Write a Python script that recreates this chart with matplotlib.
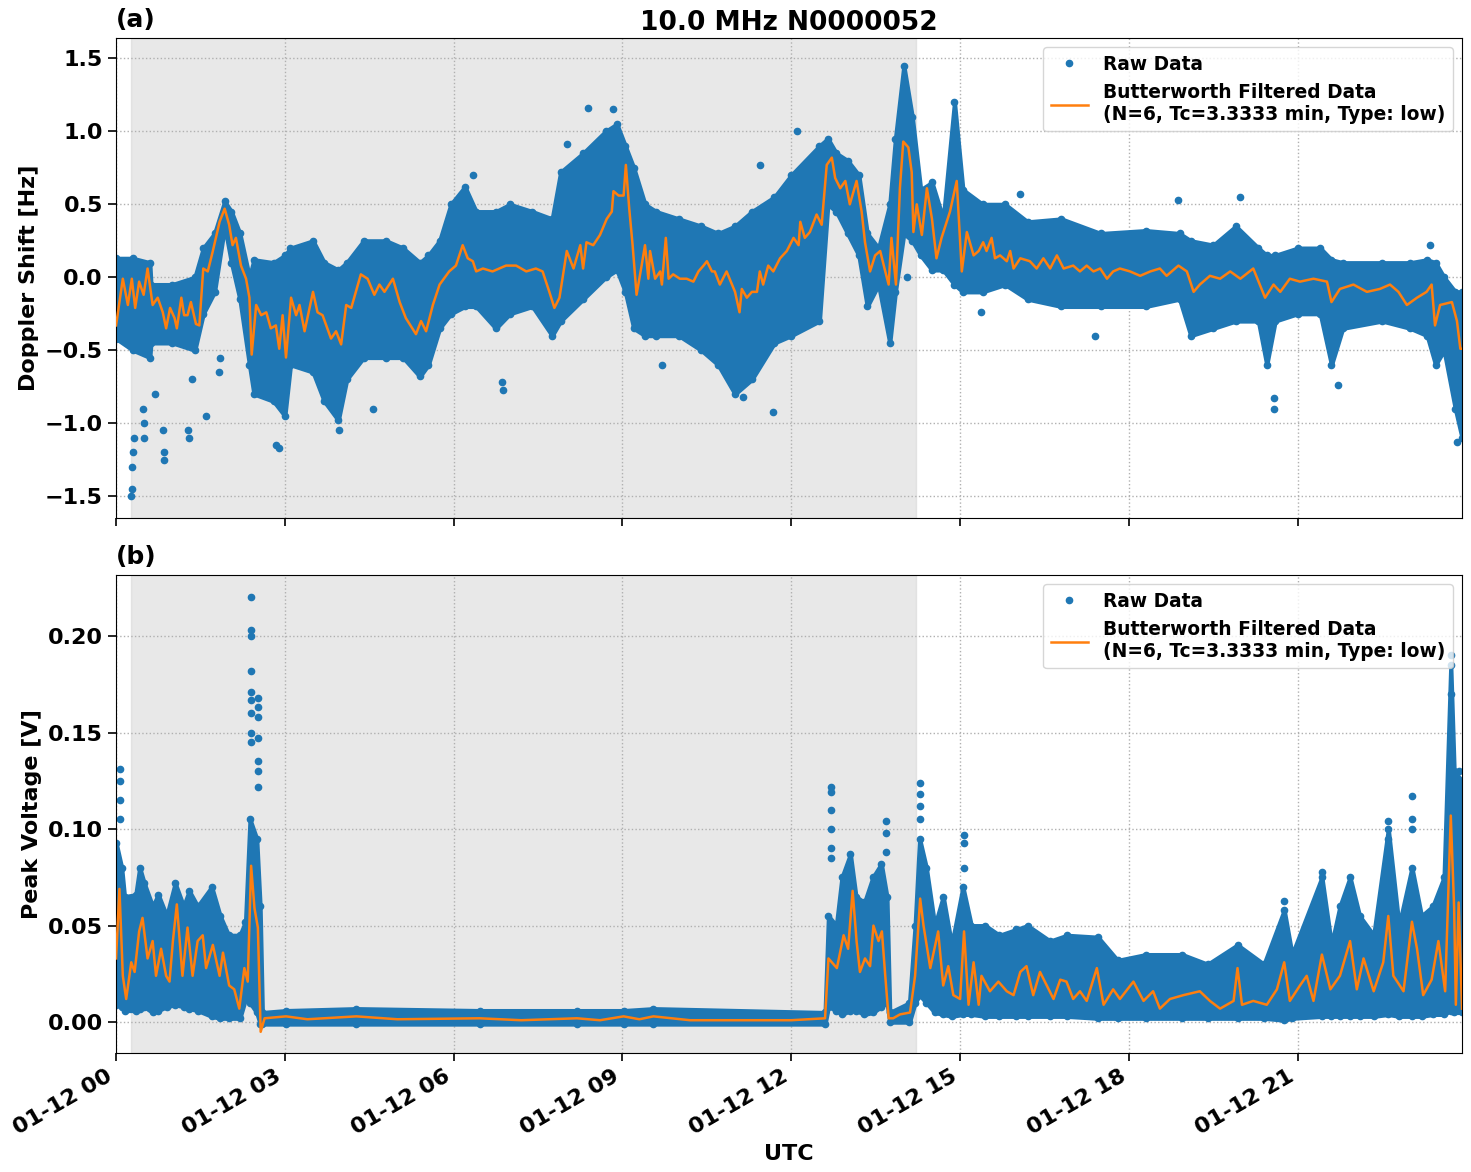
import numpy as np
import pandas as pd
import matplotlib
matplotlib.use("Agg")
import matplotlib.pyplot as plt
import matplotlib.dates as mdates

# ---------------- data (hours after 2025-01-12 00:00 UTC) ----------------
title = "10.0 MHz N0000052"
raw_label = "Raw Data"
filt_label = "Butterworth Filtered Data\n(N=6, Tc=3.3333 min, Type: low)"
shade_start_h = 0.27
shade_end_h = 14.22
t_end_h = 23.92

# (a) Doppler shift: Butterworth filtered curve
dop_filt_h = [0.00, 0.12, 0.21, 0.28, 0.34, 0.41, 0.49, 0.56, 0.65, 0.74, 0.83, 0.89, 0.96, 1.04, 1.08,
              1.16, 1.21, 1.27, 1.33, 1.42, 1.48, 1.55, 1.63, 1.72, 1.84, 1.93, 2.01, 2.07, 2.13, 2.22,
              2.31, 2.37, 2.41, 2.49, 2.58, 2.67, 2.75, 2.84, 2.90, 2.96, 3.02, 3.11, 3.20, 3.26, 3.35,
              3.50, 3.58, 3.67, 3.82, 3.91, 4.00, 4.09, 4.18, 4.35, 4.47, 4.59, 4.68, 4.77, 4.92, 5.04,
              5.15, 5.33, 5.42, 5.51, 5.63, 5.75, 5.92, 6.04, 6.16, 6.25, 6.34, 6.40, 6.52, 6.69, 6.93,
              7.11, 7.29, 7.46, 7.58, 7.70, 7.79, 7.88, 8.01, 8.13, 8.25, 8.30, 8.36, 8.48, 8.60, 8.72,
              8.81, 8.84, 8.93, 9.02, 9.06, 9.12, 9.18, 9.25, 9.34, 9.40, 9.46, 9.49, 9.58, 9.67, 9.70,
              9.77, 9.82, 9.90, 10.02, 10.14, 10.26, 10.35, 10.44, 10.50, 10.59, 10.64, 10.73, 10.85,
              11.00, 11.08, 11.12, 11.21, 11.30, 11.39, 11.44, 11.50, 11.59, 11.68, 11.80, 11.92, 12.04,
              12.13, 12.16, 12.24, 12.33, 12.45, 12.54, 12.63, 12.72, 12.78, 12.87, 12.96, 13.04, 13.16,
              13.25, 13.31, 13.40, 13.49, 13.58, 13.67, 13.73, 13.78, 13.86, 13.93, 13.99, 14.08, 14.14,
              14.17, 14.23, 14.32, 14.41, 14.50, 14.58, 14.67, 14.82, 14.94, 15.03, 15.12, 15.24, 15.33,
              15.41, 15.47, 15.56, 15.62, 15.71, 15.83, 15.89, 15.95, 16.07, 16.24, 16.36, 16.48, 16.60,
              16.72, 16.84, 17.01, 17.13, 17.25, 17.37, 17.49, 17.61, 17.72, 17.84, 18.02, 18.20, 18.38,
              18.55, 18.67, 18.88, 19.03, 19.15, 19.26, 19.44, 19.62, 19.80, 19.98, 20.21, 20.42, 20.57,
              20.69, 20.86, 21.04, 21.28, 21.52, 21.60, 21.75, 21.99, 22.23, 22.46, 22.64, 22.79, 22.94,
              23.12, 23.29, 23.38, 23.44, 23.53, 23.74, 23.83, 23.89, 23.92]
dop_filt_v = [-0.33, -0.01, -0.19, -0.01, -0.21, -0.03, -0.12, 0.06, -0.19, -0.14, -0.24, -0.35, -0.21, -0.28, -0.35,
              -0.14, -0.26, -0.26, -0.17, -0.32, -0.33, 0.06, 0.04, 0.18, 0.38, 0.47, 0.36, 0.22, 0.27, 0.08,
              -0.01, -0.14, -0.53, -0.19, -0.26, -0.24, -0.35, -0.33, -0.49, -0.26, -0.55, -0.14, -0.26, -0.19, -0.37,
              -0.10, -0.24, -0.26, -0.42, -0.37, -0.46, -0.19, -0.21, 0.02, -0.01, -0.12, -0.05, -0.10, -0.01, -0.17,
              -0.28, -0.39, -0.30, -0.37, -0.19, -0.05, 0.04, 0.08, 0.22, 0.13, 0.11, 0.04, 0.06, 0.04, 0.08,
              0.08, 0.04, 0.06, 0.04, -0.10, -0.21, -0.14, 0.18, 0.06, 0.22, 0.06, 0.24, 0.22, 0.29, 0.40,
              0.45, 0.59, 0.56, 0.56, 0.77, 0.47, 0.22, -0.12, 0.08, 0.22, -0.01, 0.18, -0.01, 0.04, -0.05,
              0.27, -0.01, 0.02, -0.01, -0.01, -0.03, 0.04, 0.08, 0.11, 0.04, 0.04, -0.05, 0.04,
              -0.10, -0.24, -0.08, -0.14, -0.10, -0.10, 0.04, -0.05, 0.08, 0.04, 0.13, 0.18, 0.27,
              0.22, 0.38, 0.27, 0.31, 0.43, 0.36, 0.77, 0.82, 0.68, 0.61, 0.66, 0.50, 0.66,
              0.45, 0.24, 0.04, 0.15, 0.18, 0.04, -0.05, 0.27, -0.05, 0.61, 0.93, 0.89, 0.72,
              0.31, 0.50, 0.29, 0.61, 0.40, 0.13, 0.27, 0.45, 0.66, 0.04, 0.31, 0.15, 0.18,
              0.24, 0.18, 0.27, 0.13, 0.15, 0.11, 0.18, 0.06, 0.13, 0.11, 0.06, 0.13, 0.06,
              0.15, 0.06, 0.08, 0.04, 0.08, 0.04, 0.06, -0.01, 0.04, 0.06, 0.04, 0.01, 0.04,
              0.06, 0.01, 0.08, 0.04, -0.10, -0.05, 0.01, -0.01, 0.04, -0.01, 0.06, -0.14, -0.05,
              -0.10, -0.01, -0.03, -0.01, -0.03, -0.17, -0.08, -0.05, -0.10, -0.08, -0.05, -0.10, -0.19,
              -0.14, -0.10, -0.05, -0.33, -0.19, -0.17, -0.30, -0.49, -0.49]

# (a) Doppler shift: extent of the dense raw-data band
dop_band_h = [0.00, 0.30, 0.60, 0.62, 1.00, 1.40, 1.55, 1.75, 1.93, 2.05, 2.20, 2.37, 2.45, 2.80, 3.00,
              3.10, 3.50, 3.70, 3.95, 4.10, 4.40, 4.80, 5.10, 5.40, 5.55, 5.75, 5.95, 6.20, 6.40, 6.75,
              7.00, 7.40, 7.75, 7.90, 8.30, 8.70, 8.90, 9.05, 9.20, 9.40, 9.60, 10.0, 10.4, 10.7, 11.0,
              11.3, 11.7, 12.0, 12.5, 12.65, 12.80, 13.00, 13.20, 13.35, 13.55, 13.75, 13.85, 14.00, 14.15,
              14.30, 14.50, 14.70, 14.90, 15.05, 15.40, 15.80, 16.20, 16.80, 17.50, 18.30, 18.90, 19.10,
              19.50, 19.90, 20.30, 20.45, 20.60, 21.00, 21.40, 21.60, 21.80, 22.50, 23.00, 23.30, 23.45,
              23.60, 23.80, 23.92]
dop_band_hi = [0.13, 0.13, 0.10, -0.05, -0.05, 0.00, 0.20, 0.30, 0.52, 0.45, 0.30, 0.00, 0.12, 0.10, 0.15,
               0.20, 0.25, 0.10, 0.05, 0.10, 0.25, 0.25, 0.20, 0.10, 0.15, 0.25, 0.50, 0.62, 0.45, 0.45,
               0.50, 0.45, 0.40, 0.72, 0.85, 1.00, 1.05, 0.90, 0.75, 0.50, 0.45, 0.40, 0.35, 0.30, 0.35,
               0.45, 0.55, 0.70, 0.90, 0.95, 0.85, 0.80, 0.70, 0.30, 0.20, 0.50, 0.95, 1.45, 1.10,
               0.60, 0.65, 0.40, 1.20, 0.60, 0.50, 0.50, 0.38, 0.40, 0.30, 0.32, 0.30, 0.25,
               0.22, 0.35, 0.20, 0.15, 0.15, 0.20, 0.20, 0.12, 0.10, 0.10, 0.10, 0.12, 0.10,
               0.00, -0.10, -0.10]
dop_band_lo = [-0.42, -0.50, -0.55, -0.45, -0.45, -0.50, -0.25, -0.10, 0.35, 0.10, -0.15, -0.60, -0.80, -0.85, -0.95,
               -0.60, -0.65, -0.85, -0.98, -0.70, -0.55, -0.55, -0.55, -0.68, -0.60, -0.35, -0.25, -0.20, -0.20, -0.35,
               -0.25, -0.20, -0.40, -0.30, -0.15, 0.00, 0.05, -0.10, -0.35, -0.40, -0.40, -0.40, -0.50, -0.60, -0.80,
               -0.70, -0.45, -0.40, -0.30, 0.50, 0.45, 0.30, 0.15, -0.20, -0.05, -0.45, -0.10, 0.30, 0.25,
               0.15, 0.05, 0.05, -0.05, -0.10, -0.10, -0.05, -0.15, -0.20, -0.20, -0.20, -0.15, -0.40,
               -0.35, -0.30, -0.30, -0.60, -0.30, -0.25, -0.25, -0.60, -0.35, -0.30, -0.35, -0.40, -0.60,
               -0.50, -0.90, -1.10]

# (a) Doppler shift: isolated raw samples outside the band
dop_out_h = [0.27, 0.28, 0.29, 0.30, 0.32, 0.47, 0.50, 0.50, 0.70, 0.84, 0.86, 0.86, 1.28, 1.29, 1.35,
             1.59, 1.83, 1.85, 2.85, 2.90, 3.96, 4.56, 6.34, 6.86, 6.87, 8.01, 8.39, 8.84, 9.70, 11.15,
             11.44, 11.68, 12.10, 14.05, 15.38, 16.07, 17.40, 18.88, 19.98, 20.57, 20.57, 21.72, 23.35, 23.83]
dop_out_v = [-1.50, -1.45, -1.30, -1.20, -1.10, -0.90, -1.10, -1.00, -0.80, -1.05, -1.20, -1.25, -1.05, -1.10, -0.70,
             -0.95, -0.65, -0.55, -1.15, -1.17, -1.05, -0.90, 0.70, -0.72, -0.77, 0.91, 1.16, 1.15, -0.60, -0.82,
             0.77, -0.92, 1.00, 0.00, -0.24, 0.57, -0.40, 0.53, 0.55, -0.83, -0.90, -0.74, 0.22, -1.13]

# (b) Peak voltage: Butterworth filtered curve
pv_filt_h = [0.00, 0.06, 0.12, 0.18, 0.27, 0.33, 0.41, 0.47, 0.56, 0.65, 0.71, 0.80, 0.89, 0.95, 1.01,
             1.08, 1.18, 1.27, 1.36, 1.45, 1.54, 1.60, 1.72, 1.84, 1.90, 2.01, 2.10, 2.19, 2.28, 2.34,
             2.40, 2.46, 2.52, 2.57, 2.64, 3.02, 3.40, 4.27, 5.00, 6.46, 7.20, 8.19, 8.60, 9.02, 9.30,
             9.55, 10.20, 11.00, 12.00, 12.60, 12.66, 12.81, 12.93, 13.01, 13.09, 13.16, 13.22, 13.31, 13.40,
             13.46, 13.55, 13.61, 13.67, 13.73, 13.81, 13.93, 14.11, 14.20, 14.29, 14.35, 14.47, 14.61, 14.70,
             14.79, 14.88, 15.00, 15.07, 15.15, 15.24, 15.33, 15.38, 15.53, 15.68, 15.83, 15.95, 16.07, 16.18,
             16.30, 16.42, 16.54, 16.66, 16.78, 16.89, 17.01, 17.13, 17.25, 17.43, 17.55, 17.72, 17.84, 18.08,
             18.26, 18.43, 18.55, 18.73, 18.97, 19.26, 19.44, 19.62, 19.86, 19.93, 20.01, 20.21, 20.45, 20.63,
             20.76, 20.86, 21.04, 21.16, 21.28, 21.43, 21.58, 21.75, 21.93, 22.05, 22.17, 22.35, 22.52, 22.61,
             22.70, 22.88, 23.03, 23.12, 23.23, 23.38, 23.50, 23.62, 23.72, 23.78, 23.81, 23.86, 23.92]
pv_filt_v = [0.033, 0.069, 0.024, 0.012, 0.031, 0.026, 0.047, 0.054, 0.033, 0.042, 0.024, 0.038, 0.024, 0.021, 0.042,
             0.061, 0.024, 0.049, 0.024, 0.042, 0.045, 0.028, 0.040, 0.024, 0.036, 0.019, 0.017, 0.007, 0.028, 0.021,
             0.081, 0.059, 0.049, -0.005, 0.002, 0.003, 0.0015, 0.003, 0.0015, 0.002, 0.001, 0.002, 0.001, 0.003, 0.0015,
             0.003, 0.001, 0.001, 0.001, 0.002, 0.033, 0.028, 0.045, 0.038, 0.068, 0.042, 0.026, 0.033, 0.029,
             0.050, 0.042, 0.047, 0.024, 0.002, 0.002, 0.004, 0.005, 0.024, 0.064, 0.050, 0.028, 0.047, 0.019,
             0.029, 0.014, 0.012, 0.047, 0.009, 0.031, 0.009, 0.024, 0.016, 0.021, 0.016, 0.014, 0.026, 0.029,
             0.014, 0.026, 0.019, 0.012, 0.022, 0.021, 0.012, 0.016, 0.011, 0.028, 0.009, 0.017, 0.012, 0.021,
             0.011, 0.016, 0.007, 0.012, 0.014, 0.016, 0.011, 0.007, 0.011, 0.028, 0.009, 0.011, 0.009, 0.017,
             0.031, 0.011, 0.019, 0.024, 0.011, 0.035, 0.017, 0.024, 0.042, 0.017, 0.033, 0.016, 0.031, 0.055,
             0.024, 0.016, 0.052, 0.038, 0.014, 0.022, 0.042, 0.016, 0.107, 0.059, 0.009, 0.062, 0.007]

# (b) Peak voltage: extent of the dense raw-data band
pv_band_h = [0.00, 0.10, 0.15, 0.35, 0.42, 0.50, 0.65, 0.75, 0.90, 1.05, 1.20, 1.30, 1.45, 1.70, 1.85,
             2.00, 2.20, 2.30, 2.38, 2.50, 2.56, 2.60, 3.02, 4.27, 6.46, 8.19, 9.02, 9.55, 12.60, 12.66,
             12.80, 12.90, 13.05, 13.15, 13.30, 13.45, 13.60, 13.70, 13.75, 14.10, 14.20, 14.28, 14.40, 14.55,
             14.70, 14.85, 15.05, 15.20, 15.45, 15.70, 16.00, 16.20, 16.60, 16.90, 17.45, 17.80, 18.30, 18.95,
             19.40, 19.93, 20.40, 20.76, 20.90, 21.43, 21.60, 21.75, 21.93, 22.10, 22.35, 22.61, 22.80, 23.03,
             23.20, 23.40, 23.60, 23.72, 23.78, 23.92]
pv_band_hi = [0.093, 0.080, 0.065, 0.066, 0.080, 0.072, 0.060, 0.066, 0.055, 0.072, 0.060, 0.068, 0.060, 0.070, 0.055,
              0.045, 0.045, 0.052, 0.105, 0.095, 0.060, 0.005, 0.006, 0.007, 0.006, 0.006, 0.006, 0.007, 0.005, 0.055,
              0.050, 0.075, 0.087, 0.065, 0.062, 0.075, 0.082, 0.065, 0.005, 0.010, 0.050, 0.095, 0.080, 0.050,
              0.065, 0.040, 0.070, 0.050, 0.050, 0.045, 0.048, 0.050, 0.042, 0.045, 0.044, 0.032, 0.035, 0.035,
              0.030, 0.040, 0.030, 0.058, 0.035, 0.075, 0.040, 0.060, 0.075, 0.055, 0.045, 0.100, 0.050, 0.080,
              0.055, 0.060, 0.075, 0.185, 0.130, 0.125]
pv_band_lo = [0.009, 0.008, 0.006, 0.006, 0.007, 0.008, 0.005, 0.006, 0.008, 0.009, 0.008, 0.007, 0.006, 0.003, 0.002,
              0.002, 0.002, 0.012, 0.010, 0.005, -0.001, -0.001, -0.001, -0.001, -0.001, -0.001, -0.001, -0.001, -0.001, 0.008,
              0.006, 0.004, 0.006, 0.006, 0.004, 0.005, 0.008, 0.010, 0.000, 0.000, 0.010, 0.014, 0.010, 0.005,
              0.004, 0.003, 0.004, 0.004, 0.003, 0.003, 0.003, 0.003, 0.003, 0.003, 0.002, 0.002, 0.002, 0.002,
              0.002, 0.002, 0.002, 0.001, 0.002, 0.003, 0.003, 0.003, 0.003, 0.003, 0.003, 0.004, 0.003, 0.003,
              0.003, 0.004, 0.004, 0.006, 0.005, 0.005]

# (b) Peak voltage: isolated raw samples above the band
pv_out_h = [0.07, 0.07, 0.07, 0.07, 2.40, 2.40, 2.40, 2.40, 2.40, 2.40, 2.40, 2.40, 2.40, 2.52, 2.52,
            2.52, 2.52, 2.52, 2.52, 2.52, 12.71, 12.71, 12.71, 12.71, 12.71, 12.71, 13.69, 13.69, 13.69, 14.29,
            14.29, 14.29, 14.29, 15.07, 15.07, 15.07, 20.76, 21.43, 22.61, 22.61, 23.03, 23.03, 23.03, 23.72,
            23.72, 23.72, 23.86, 23.86]
pv_out_v = [0.131, 0.125, 0.115, 0.105, 0.220, 0.203, 0.200, 0.182, 0.171, 0.167, 0.160, 0.150, 0.145, 0.168, 0.163,
            0.158, 0.147, 0.135, 0.130, 0.122, 0.122, 0.119, 0.110, 0.100, 0.090, 0.085, 0.104, 0.098, 0.088, 0.124,
            0.118, 0.112, 0.105, 0.097, 0.093, 0.080, 0.063, 0.078, 0.104, 0.095, 0.117, 0.105, 0.100, 0.190,
            0.170, 0.150, 0.130, 0.110]

# ---------------- plotting ----------------
base = pd.Timestamp("2025-01-12 00:00")


def to_time(hours):
    return base + pd.to_timedelta(np.asarray(hours, dtype=float), unit="h")


plt.rcParams["font.family"] = ["DejaVu Sans"]
plt.rcParams["font.weight"] = "bold"
plt.rcParams["axes.labelweight"] = "bold"

fig = plt.figure(figsize=(14.71, 11.72), dpi=100)
ax1 = fig.add_axes([0.0789, 0.5580, 0.9150, 0.4096])
ax2 = fig.add_axes([0.0789, 0.1015, 0.9150, 0.4079], sharex=ax1)

blue = "#1f77b4"
orange = "#ff7f0e"

panels = [
    (ax1, dop_band_h, dop_band_lo, dop_band_hi, dop_out_h, dop_out_v, dop_filt_h, dop_filt_v,
     "Doppler Shift [Hz]", (-1.65, 1.64), [-1.5, -1.0, -0.5, 0.0, 0.5, 1.0, 1.5], "{:.1f}", "(a)"),
    (ax2, pv_band_h, pv_band_lo, pv_band_hi, pv_out_h, pv_out_v, pv_filt_h, pv_filt_v,
     "Peak Voltage [V]", (-0.016, 0.2316), [0.0, 0.05, 0.10, 0.15, 0.20], "{:.2f}", "(b)"),
]

for (ax, bh, blo, bhi, oh, ov, fh, fv, ylab, ylim, yt, fmt, tag) in panels:
    ax.axvspan(to_time([shade_start_h])[0], to_time([shade_end_h])[0], color="lightgray", alpha=0.5, zorder=0)
    tb = to_time(bh)
    ax.fill_between(tb, blo, bhi, color=blue, linewidth=3, edgecolor=blue, zorder=2)
    ax.plot(tb, bhi, ".", color=blue, ms=9, zorder=2)
    ax.plot(tb, blo, ".", color=blue, ms=9, zorder=2)
    ax.plot(to_time(oh), ov, ".", color=blue, ms=9, zorder=2, label=raw_label)
    ax.plot(to_time(fh), fv, "-", color=orange, lw=1.8, zorder=3, label=filt_label)
    ax.set_ylim(*ylim)
    ax.set_yticks(yt)
    ax.set_yticklabels([fmt.format(v).replace("-", "\u2212") for v in yt])
    ax.set_ylabel(ylab, fontsize=16, fontweight="bold")
    ax.grid(True, linestyle=":", color="#b0b0b0", linewidth=1.0)
    ax.set_axisbelow(True)
    ax.tick_params(labelsize=16, width=1.2, length=6)
    for lbl in ax.get_yticklabels() + ax.get_xticklabels():
        lbl.set_fontweight("bold")
    leg = ax.legend(loc="upper right", prop={"size": 13.4, "weight": "bold"}, framealpha=0.8)
    ax.text(0.0, 1.012, tag, transform=ax.transAxes, fontsize=18, fontweight="bold", ha="left", va="bottom")

ax1.set_title(title, fontsize=19, fontweight="bold", pad=6)
ax1.set_xlim(to_time([0.0])[0], to_time([t_end_h])[0])
ax2.xaxis.set_major_locator(mdates.HourLocator(byhour=range(0, 24, 3)))
ax2.xaxis.set_major_formatter(mdates.DateFormatter("%m-%d %H"))
plt.setp(ax1.get_xticklabels(), visible=False)
for lbl in ax2.get_xticklabels():
    lbl.set_rotation(30)
    lbl.set_ha("right")
    lbl.set_fontweight("bold")
    lbl.set_fontsize(16)
ax2.set_xlabel("UTC", fontsize=16, fontweight="bold")

fig.savefig("out.png", dpi=100)
